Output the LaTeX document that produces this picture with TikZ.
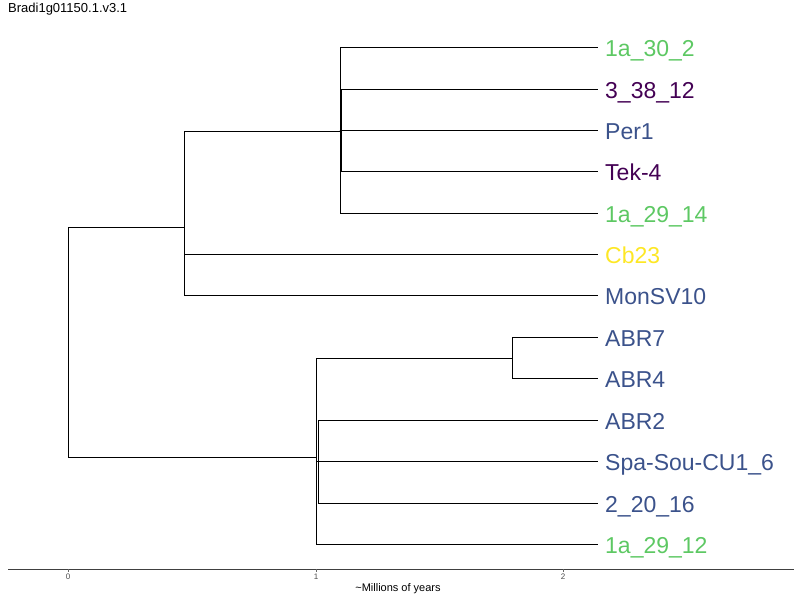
\documentclass[tikz,border=0pt]{standalone}
\usepackage{fontspec}
\setmainfont{Liberation Sans}
\usepackage{tikz}
\usetikzlibrary{calc}

\definecolor{vgreen}{HTML}{5DC863}
\definecolor{vpurple}{HTML}{440154}
\definecolor{vblue}{HTML}{3B528B}
\definecolor{vyellow}{HTML}{FDE725}

\tikzset{
    leaf/.style={anchor=west,inner xsep=7pt,inner ysep=0pt,text height=19pt,text depth=0pt,font=\fontsize{23}{27}\selectfont},
    branch/.style={draw=black,line width=0.9pt},
    ticklab/.style={font=\fontsize{8}{9}\selectfont,text=black!70,inner sep=0pt}
}

\begin{document}
\begin{tikzpicture}[x=1pt,y=-1pt]
    \useasboundingbox (0,0) rectangle (800,600);

    % title
    \node[anchor=west,inner sep=0pt,font=\fontsize{13}{15}\selectfont] (title) at (8,9) {Bradi1g01150.1.v3.1};

    % internal nodes
    \coordinate (root) at (68,342);
    \coordinate (up) at (184,227);
    \coordinate (a) at (340,131);
    \coordinate (b) at (341,130);
    \coordinate (low) at (316,457);
    \coordinate (c) at (512,358);
    \coordinate (d) at (318,461);

    % tips
    \node[leaf,text=vgreen] (t1) at (598,47) {1a\_30\_2};
    \node[leaf,text=vpurple] (t2) at (598,89) {3\_38\_12};
    \node[leaf,text=vblue] (t3) at (598,130) {Per1};
    \node[leaf,text=vpurple] (t4) at (598,171) {Tek-4};
    \node[leaf,text=vgreen] (t5) at (598,213) {1a\_29\_14};
    \node[leaf,text=vyellow] (t6) at (598,254) {Cb23};
    \node[leaf,text=vblue] (t7) at (598,295) {MonSV10};
    \node[leaf,text=vblue] (t8) at (598,337) {ABR7};
    \node[leaf,text=vblue] (t9) at (598,378) {ABR4};
    \node[leaf,text=vblue] (t10) at (598,420) {ABR2};
    \node[leaf,text=vblue] (t11) at (598,461) {Spa-Sou-CU1\_6};
    \node[leaf,text=vblue] (t12) at (598,503) {2\_20\_16};
    \node[leaf,text=vgreen] (t13) at (598,544) {1a\_29\_12};

    % branches
    \draw[branch] (root) |- (up);
    \draw[branch] (root) |- (low);
    \draw[branch] (up) |- (a);
    \draw[branch] (up) |- (t6);
    \draw[branch] (up) |- (t7);
    \draw[branch] (a) |- (t1);
    \draw[branch] (a) -- (b);
    \draw[branch] (a) |- (t5);
    \draw[branch] (b) |- (t2);
    \draw[branch] (b) |- (t3);
    \draw[branch] (b) |- (t4);
    \draw[branch] (low) |- (c);
    \draw[branch] (low) |- (d);
    \draw[branch] (low) |- (t13);
    \draw[branch] (c) |- (t8);
    \draw[branch] (c) |- (t9);
    \draw[branch] (d) |- (t10);
    \draw[branch] (d) |- (t11);
    \draw[branch] (d) |- (t12);

    % time axis
    \coordinate (ax0) at (8,569);
    \coordinate (ax1) at (794,569);
    \draw[black!75,line width=1pt] (ax0) -- (ax1);
    \foreach \x/\lab in {68/0,316/1,563/2}{
        \draw[black!60,line width=0.6pt] (\x,569) -- (\x,572);
        \node[ticklab] (tick\lab) at (\x,577) {\lab};
    }
    \node[inner sep=0pt,font=\fontsize{11}{13}\selectfont] (axlab) at (398,589) {\textasciitilde Millions of years};
\end{tikzpicture}
\end{document}
